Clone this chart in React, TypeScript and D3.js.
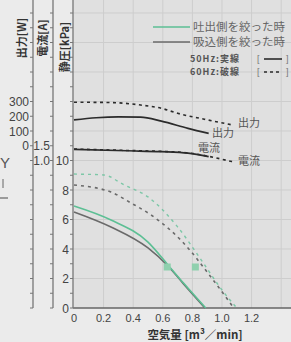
import * as d3 from 'd3';
import React from 'react';

// flow [m3/min] vs value
const out50Flow = [0, 0.15, 0.3, 0.45, 0.59, 0.77, 0.91];
const out50W = [175, 190, 196, 194, 167, 118, 84];
const out60Flow = [0, 0.25, 0.45, 0.59, 0.7, 0.88, 1.07];
const out60W = [295, 293, 276, 254, 220, 180, 141];

const cur50Flow = [0, 0.36, 0.59, 0.77, 0.91];
const cur50A = [1.38, 1.33, 1.3, 1.25, 1.13];
const cur60Flow = [0, 0.36, 0.59, 0.77, 0.91, 1.07];
const cur60A = [1.39, 1.34, 1.31, 1.26, 1.14, 0.96];

const p50DisFlow = [0, 0.25, 0.5, 0.635, 0.74, 0.89];
const p50DisKpa = [6.92, 5.97, 4.47, 2.92, 1.69, 0];
const p50SucFlow = [0, 0.25, 0.5, 0.635, 0.74, 0.885];
const p50SucKpa = [6.51, 5.49, 4.07, 2.85, 1.63, 0];
const p60DisFlow = [0, 0.2, 0.34, 0.5, 0.7, 0.86, 1.0, 1.1];
const p60DisKpa = [9.08, 9.02, 8.34, 7.53, 5.5, 3.25, 1.22, 0];
const p60SucFlow = [0, 0.25, 0.385, 0.52, 0.635, 0.74, 0.925, 1.08];
const p60SucKpa = [8.34, 7.86, 7.12, 6.31, 5.42, 4.41, 2.1, 0];

const markFlow = [0.63, 0.82];
const markKpa = [2.78, 2.78];

const xTicks = [0, 0.2, 0.4, 0.6, 0.8, 1.0, 1.2];
const xTickLabels = ['0', '0.2', '0.4', '0.6', '0.8', '1.0', '1.2'];
const kpaTicks = [0, 2, 4, 6, 8, 10];
const wTicks = [0, 100, 200, 300];
const aTicks = [1.0, 1.5];
const aTickLabels = ['1.0', '1.5'];

const W = 291;
const H = 342;
const FONT = "'Liberation Sans', 'Noto Sans CJK JP', sans-serif";
const JP = "'Noto Sans CJK JP', sans-serif";
const DARK = '#2b2b2b';
const GREEN = '#5cbf94';
const GREY = '#6a6a6a';
const TEXT = '#444';

export default function App() {
    const x = d3.scaleLinear().domain([0, 1.5]).range([74, 74 + 148 * 1.5]);
    const yK = d3.scaleLinear().domain([0, 20]).range([308, 13]);
    const yW = d3.scaleLinear().domain([0, 300]).range([yK(11), yK(14)]);
    const yA = d3.scaleLinear().domain([1.0, 1.5]).range([yK(10), yK(11)]);

    const mk = (fx: number[], fy: number[], ys: d3.ScaleLinear<number, number>) =>
        d3.line<number>()
            .x((_, i) => x(fx[i]))
            .y((v) => ys(v))
            .curve(d3.curveMonotoneX)(fy) ?? '';

    const minor = d3.range(0, 21);
    const gridY = d3.range(2, 21, 2);
    const gridX = d3.range(0.2, 1.5, 0.2);

    return (
        <svg width={W} height={H} style={{ position: 'absolute', left: 0, top: 0, background: '#ebebeb' }}>
            <rect x={73} y={0} width={W - 73} height={308} fill="#e0e0e0" />
            {gridY.map((k) => (
                <line key={`gy${k}`} x1={73} x2={W} y1={yK(k)} y2={yK(k)} stroke="#cdcdcd" strokeWidth={1} />
            ))}
            {gridX.map((f, i) => (
                <line key={`gx${i}`} x1={x(f)} x2={x(f)} y1={0} y2={308} stroke="#cdcdcd" strokeWidth={1} />
            ))}

            {/* axes */}
            <line x1={73} x2={W} y1={308} y2={308} stroke="#666" strokeWidth={1.3} />
            {[33, 53, 73].map((ax) => (
                <g key={`ax${ax}`}>
                    <line x1={ax} x2={ax} y1={0} y2={308} stroke="#777" strokeWidth={1.3} />
                    {minor.map((k) => (
                        <line key={k} x1={ax - 3} x2={ax} y1={yK(k)} y2={yK(k)} stroke="#777" strokeWidth={1} />
                    ))}
                </g>
            ))}

            {/* tick labels */}
            {kpaTicks.map((k) => (
                <text key={`k${k}`} x={69} y={yK(k) + 4.5} textAnchor="end" fontSize={12} fill={TEXT} fontFamily={FONT}>{k}</text>
            ))}
            {wTicks.map((w) => (
                <text key={`w${w}`} x={29} y={yW(w) + 4.5} textAnchor="end" fontSize={12} fill={TEXT} fontFamily={FONT}>{w}</text>
            ))}
            {aTicks.map((a, i) => (
                <text key={`a${a}`} x={50} y={yA(a) + 4.5} textAnchor="end" fontSize={12} fill={TEXT} fontFamily={FONT}>{aTickLabels[i]}</text>
            ))}
            {xTicks.map((t, i) => (
                <text key={`x${i}`} x={x(t)} y={322} textAnchor="middle" fontSize={11} fill={TEXT} fontFamily={FONT}>{xTickLabels[i]}</text>
            ))}

            {/* axis titles */}
            <text transform="translate(26,38) rotate(-90)" textAnchor="middle" fontSize={11} fontWeight={700} fill="#333" fontFamily={JP}>出力[W]</text>
            <text transform="translate(47,38) rotate(-90)" textAnchor="middle" fontSize={11} fontWeight={700} fill="#333" fontFamily={JP}>電流[A]</text>
            <text transform="translate(69,47) rotate(-90)" textAnchor="middle" fontSize={11} fontWeight={700} fill="#333" fontFamily={JP}>静圧[kPa]</text>
            <text x={195} y={339} textAnchor="middle" fontSize={11.5} fontWeight={700} fill="#333" fontFamily={JP}>空気量 [m³／min]</text>

            {/* leftover marks at the left edge */}
            <text x={0} y={168} fontSize={15} fill="#555" fontFamily={FONT}>Y</text>
            <line x1={3} x2={3} y1={179} y2={188} stroke="#666" strokeWidth={1} />
            <line x1={0} x2={8} y1={198} y2={198} stroke="#666" strokeWidth={1.2} />

            {/* pressure curves */}
            <path d={mk(p60SucFlow, p60SucKpa, yK)} fill="none" stroke={GREY} strokeWidth={1.6} strokeDasharray="3 4" />
            <path d={mk(p60DisFlow, p60DisKpa, yK)} fill="none" stroke={GREEN} strokeWidth={1.4} strokeDasharray="3 4" opacity={0.75} />
            <path d={mk(p50SucFlow, p50SucKpa, yK)} fill="none" stroke={GREY} strokeWidth={1.6} />
            <path d={mk(p50DisFlow, p50DisKpa, yK)} fill="none" stroke={GREEN} strokeWidth={1.6} />
            {markFlow.map((f, i) => (
                <rect key={`m${i}`} x={x(f) - 3.5} y={yK(markKpa[i]) - 3.5} width={7} height={7} fill="#8fd0ae" />
            ))}

            {/* output & current */}
            <path d={mk(out60Flow, out60W, yW)} fill="none" stroke={DARK} strokeWidth={1.6} strokeDasharray="3 3.5" />
            <path d={mk(out50Flow, out50W, yW)} fill="none" stroke={DARK} strokeWidth={1.7} />
            <path d={mk(cur60Flow, cur60A, yA)} fill="none" stroke={DARK} strokeWidth={1.6} strokeDasharray="3 3.5" />
            <path d={mk(cur50Flow, cur50A, yA)} fill="none" stroke={DARK} strokeWidth={1.7} />

            <text x={238} y={127} fontSize={11} fill="#555" fontFamily={JP}>出力</text>
            <text x={212} y={137} fontSize={11} fill="#555" fontFamily={JP}>出力</text>
            <text x={198} y={152} fontSize={11} fill="#555" fontFamily={JP}>電流</text>
            <text x={238} y={165} fontSize={11} fill="#555" fontFamily={JP}>電流</text>

            {/* legend */}
            <line x1={153} x2={190} y1={27} y2={27} stroke={GREEN} strokeWidth={1.3} />
            <text x={193} y={31} fontSize={11.5} fill="#666" fontFamily={JP}>吐出側を絞った時</text>
            <line x1={153} x2={190} y1={42} y2={42} stroke={GREY} strokeWidth={1.5} />
            <text x={193} y={46} fontSize={11.5} fill="#666" fontFamily={JP}>吸込側を絞った時</text>
            <text x={190} y={62} fontSize={9} fontWeight={700} fill="#555" fontFamily={JP} letterSpacing={1}>50Hz:実線</text>
            <text x={190} y={75} fontSize={9} fontWeight={700} fill="#555" fontFamily={JP} letterSpacing={1}>60Hz:破線</text>
            <text x={257} y={62} fontSize={9} fill="#777" fontFamily={FONT}>[</text>
            <line x1={264} x2={282} y1={59} y2={59} stroke={DARK} strokeWidth={1.6} />
            <text x={286} y={62} fontSize={9} fill="#777" fontFamily={FONT}>]</text>
            <text x={257} y={75} fontSize={9} fill="#777" fontFamily={FONT}>[</text>
            <line x1={264} x2={282} y1={72} y2={72} stroke={DARK} strokeWidth={1.5} strokeDasharray="3 3" />
            <text x={286} y={75} fontSize={9} fill="#777" fontFamily={FONT}>]</text>
        </svg>
    );
}
